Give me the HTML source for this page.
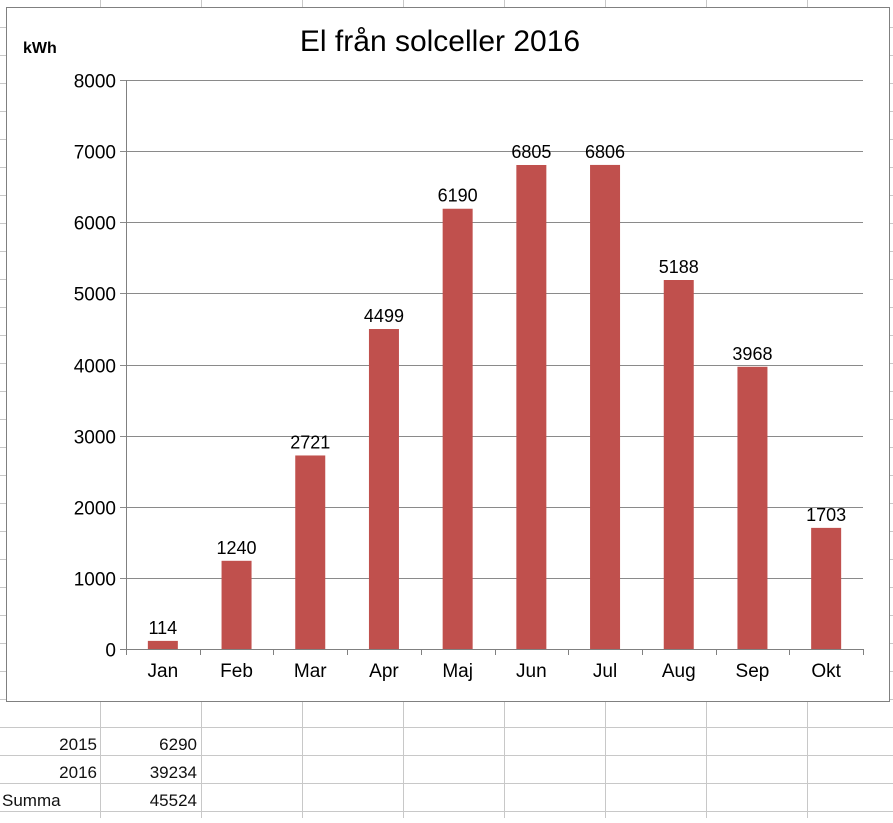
<!DOCTYPE html>
<html><head><meta charset="utf-8"><style>
html,body{margin:0;padding:0;background:#fff;}
body{width:893px;height:818px;overflow:hidden;font-family:"Liberation Sans",sans-serif;}
</style></head><body>
<svg width="893" height="818" xmlns="http://www.w3.org/2000/svg" font-family="Liberation Sans, sans-serif">
<g id="grid"></g>
<g font-size="17" fill="#111">
<text x="97" y="750" text-anchor="end">2015</text>
<text x="197" y="750" text-anchor="end">6290</text>
<text x="97" y="778" text-anchor="end">2016</text>
<text x="197" y="778" text-anchor="end">39234</text>
<text x="2" y="806">Summa</text>
<text x="197" y="806" text-anchor="end">45524</text>
</g>
<rect x="6.5" y="7.5" width="883" height="694" fill="#fff" stroke="#808080" stroke-width="1"/>
<text x="440" y="51" text-anchor="middle" font-size="30" fill="#000">El från solceller 2016</text>
<text x="23" y="53" font-size="16" font-weight="bold" fill="#000">kWh</text>
<g id="chart"></g>
</svg>
<script>
const categories=["Jan","Feb","Mar","Apr","Maj","Jun","Jul","Aug","Sep","Okt"];
const values=[114,1240,2721,4499,6190,6805,6806,5188,3968,1703];
const yTicks=[0,1000,2000,3000,4000,5000,6000,7000,8000];
const NS="http://www.w3.org/2000/svg";
function mk(tag,attrs,parent,txt){const e=document.createElementNS(NS,tag);for(const k in attrs)e.setAttribute(k,attrs[k]);if(txt!==undefined)e.textContent=txt;parent.appendChild(e);return e;}
// spreadsheet grid
const grid=document.getElementById('grid');
for(let y=27;y<818;y+=28){const l=mk('line',{x1:0,x2:893,y1:y+.5,y2:y+.5,stroke:'#c8c8c8'},grid);}
for(let x=100;x<893;x+=101){const l=mk('line',{x1:x+.5,x2:x+.5,y1:0,y2:818,stroke:'#c8c8c8'},grid);}
// chart
const g=document.getElementById('chart');
const x0=126,x1=863,yTop=80,yBot=649,yMax=8000;
const band=(x1-x0)/categories.length;
const y=v=>yBot-(v/yMax)*(yBot-yTop);
const xc=i=>x0+band*(i+0.5);
yTicks.forEach(t=>{
  const yy=Math.round(y(t))+.5;
  const l=mk('line',{x1:x0-6,x2:x1,y1:yy,y2:yy,stroke:t===0?'#808080':'#8a8a8a','stroke-width':1},g);
  
  
  const tx=mk('text',{x:x0-10,y:yy+7,'text-anchor':'end','font-size':19,fill:'#000'},g,String(t));
  
  
});
const ya=mk('line',{x1:x0+.5,x2:x0+.5,y1:yTop,y2:yBot,stroke:'#808080'},g);


for(let i=0;i<=categories.length;i++){
  const xx=Math.round(x0+band*i)+.5;
  const tk=mk('line',{x1:xx,x2:xx,y1:yBot,y2:yBot+6,stroke:'#808080'},g);
  
  
}
const bw=30;
categories.forEach((c,i)=>{
  const top=y(values[i]);
  const b=mk('rect',{x:xc(i)-bw/2,y:top,width:bw,height:yBot-top,fill:'#c0504d'},g);
  
  
  const vl=mk('text',{x:xc(i),y:top-7,'text-anchor':'middle','font-size':18,fill:'#000'},g,String(values[i]));
  
  
  const cl=mk('text',{x:xc(i),y:yBot+28,'text-anchor':'middle','font-size':19,fill:'#000'},g,c);
  
  
});
</script>
</body></html>
